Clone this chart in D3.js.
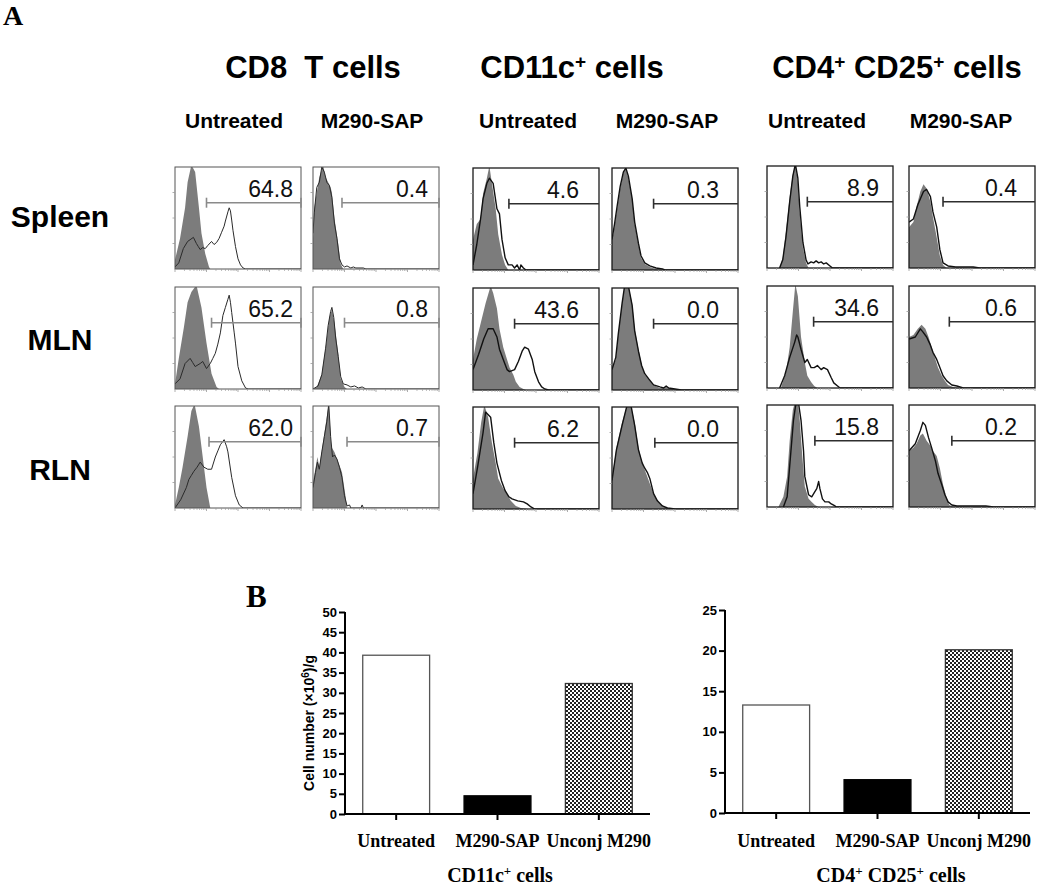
<!DOCTYPE html>
<html><head><meta charset="utf-8">
<script src="https://cdn.jsdelivr.net/npm/d3@7"></script>
<style>body{margin:0;background:#fff}</style>
</head><body>
<script>
// ---------------- DATA ----------------
const populations = [
  [["CD8  T cells", false]],
  [["CD11c", false], ["+", true], [" cells", false]],
  [["CD4", false], ["+", true], [" CD25", false], ["+", true], [" cells", false]]
];
const treatments = ["Untreated", "M290-SAP", "Untreated", "M290-SAP", "Untreated", "M290-SAP"];
const tissues = ["Spleen", "MLN", "RLN"];
const gatePercent = [
  [64.8, 0.4, 4.6, 0.3, 8.9, 0.4],
  [65.2, 0.8, 43.6, 0.0, 34.6, 0.6],
  [62.0, 0.7, 6.2, 0.0, 15.8, 0.2]
];
const gateStart = [
  [0.25, 0.23, 0.285, 0.33, 0.32, 0.27],
  [0.29, 0.25, 0.33, 0.33, 0.37, 0.32],
  [0.27, 0.27, 0.33, 0.34, 0.38, 0.34]
];
// histogram outlines: [fluorescence fraction, relative count], per tissue [Spleen, MLN, RLN]
const cd8UntrControl = [
  [[0,0.09],[0.04,0.3],[0.08,0.6],[0.1,0.85],[0.13,1.02],[0.16,0.95],[0.19,0.6],[0.21,0.35],[0.24,0.15],[0.27,0.02],[0.28,0]],
  [[0,0.05],[0.03,0.3],[0.07,0.6],[0.1,0.85],[0.13,0.95],[0.17,1.02],[0.21,0.8],[0.25,0.45],[0.29,0.15],[0.33,0.02],[0.35,0]],
  [[0,0.03],[0.03,0.2],[0.06,0.4],[0.1,0.7],[0.13,0.95],[0.155,1.02],[0.19,0.8],[0.22,0.5],[0.25,0.2],[0.28,0]]
];
const cd8UntrStained = [
  [[0,0.02],[0.03,0.06],[0.066,0.2],[0.1,0.27],[0.146,0.31],[0.17,0.25],[0.185,0.22],[0.2,0.19],[0.22,0.21],[0.24,0.2],[0.26,0.23],[0.29,0.27],[0.31,0.24],[0.33,0.26],[0.35,0.3],[0.37,0.36],[0.39,0.42],[0.4,0.47],[0.42,0.56],[0.43,0.6],[0.44,0.57],[0.45,0.48],[0.46,0.38],[0.48,0.22],[0.5,0.1],[0.52,0.04],[0.54,0.01],[0.56,0]],
  [[0,0.05],[0.04,0.1],[0.08,0.25],[0.12,0.3],[0.14,0.26],[0.16,0.22],[0.2,0.25],[0.22,0.27],[0.25,0.2],[0.28,0.25],[0.3,0.3],[0.32,0.35],[0.34,0.44],[0.36,0.55],[0.38,0.72],[0.4,0.8],[0.42,0.88],[0.43,0.92],[0.44,0.85],[0.45,0.75],[0.47,0.55],[0.48,0.45],[0.5,0.22],[0.53,0.08],[0.56,0.01],[0.58,0]],
  [[0,0],[0.045,0.08],[0.09,0.2],[0.11,0.28],[0.13,0.32],[0.15,0.36],[0.175,0.4],[0.19,0.43],[0.2,0.45],[0.23,0.4],[0.26,0.38],[0.29,0.38],[0.32,0.5],[0.34,0.56],[0.36,0.62],[0.39,0.67],[0.41,0.6],[0.42,0.55],[0.45,0.3],[0.48,0.12],[0.51,0.03],[0.54,0]]
];
const cd8SapControl = [
  [[0,0.3],[0.01,0.6],[0.03,0.75],[0.05,0.9],[0.08,1.02],[0.1,0.9],[0.12,0.85],[0.14,0.8],[0.15,0.75],[0.17,0.5],[0.2,0.25],[0.22,0.05],[0.24,0]],
  [[0,0],[0.03,0.02],[0.07,0.15],[0.105,0.45],[0.13,0.7],[0.15,0.78],[0.17,0.65],[0.2,0.35],[0.22,0.1],[0.25,0.02],[0.27,0]],
  [[0,0.25],[0.035,0.5],[0.05,0.4],[0.08,0.65],[0.11,0.9],[0.125,1.02],[0.145,0.6],[0.17,0.55],[0.2,0.45],[0.23,0.35],[0.26,0.1],[0.27,0]]
];
const cd8SapStained = [
  [[0,0.35],[0.01,0.55],[0.03,0.8],[0.05,0.85],[0.07,1.0],[0.09,0.95],[0.11,0.85],[0.13,0.82],[0.15,0.7],[0.17,0.45],[0.19,0.3],[0.21,0.1],[0.23,0.04],[0.25,0.02],[0.27,0.03],[0.3,0.01],[0.32,0.02],[0.34,0.01],[0.4,0.01],[0.42,0]],
  [[0,0],[0.04,0.03],[0.07,0.14],[0.1,0.4],[0.12,0.62],[0.14,0.76],[0.15,0.8],[0.165,0.7],[0.18,0.5],[0.2,0.32],[0.22,0.12],[0.24,0.05],[0.27,0.04],[0.3,0.02],[0.33,0.03],[0.36,0.01],[0.39,0.02],[0.42,0]],
  [[0,0.2],[0.02,0.35],[0.035,0.45],[0.05,0.38],[0.07,0.55],[0.09,0.7],[0.11,0.85],[0.125,1.02],[0.14,0.7],[0.155,0.5],[0.17,0.52],[0.19,0.48],[0.21,0.4],[0.23,0.3],[0.25,0.12],[0.27,0.02],[0.29,0.03],[0.3,0],[0.38,0],[0.39,0.03],[0.4,0]]
];
const cd11UntrControl = [
  [[0,0.3],[0.03,0.45],[0.06,0.5],[0.08,0.75],[0.11,0.9],[0.13,1.02],[0.15,0.85],[0.18,0.6],[0.2,0.35],[0.23,0.15],[0.255,0.05],[0.28,0]],
  [[0,0.3],[0.03,0.5],[0.06,0.65],[0.1,0.85],[0.14,1.02],[0.16,0.95],[0.19,0.8],[0.21,0.6],[0.24,0.42],[0.27,0.3],[0.29,0.22],[0.32,0.15],[0.34,0.08],[0.37,0.03],[0.4,0.01],[0.42,0]],
  [[0,0.3],[0.035,0.55],[0.065,0.85],[0.09,1.02],[0.12,0.9],[0.15,0.65],[0.18,0.45],[0.2,0.3],[0.24,0.2],[0.27,0.15],[0.3,0.08],[0.34,0.03],[0.38,0.01],[0.44,0]]
];
const cd11UntrStained = [
  [[0,0.05],[0.03,0.25],[0.06,0.5],[0.08,0.7],[0.11,0.85],[0.13,0.9],[0.16,0.85],[0.19,0.6],[0.21,0.55],[0.23,0.3],[0.255,0.12],[0.28,0.05],[0.31,0.05],[0.33,0.02],[0.35,0.05],[0.37,0],[0.38,0.05],[0.4,0.02],[0.42,0]],
  [[0,0.2],[0.045,0.35],[0.085,0.5],[0.12,0.6],[0.16,0.6],[0.19,0.52],[0.21,0.4],[0.24,0.3],[0.27,0.2],[0.29,0.18],[0.33,0.2],[0.36,0.28],[0.39,0.38],[0.41,0.42],[0.44,0.4],[0.47,0.3],[0.49,0.18],[0.52,0.08],[0.545,0.03],[0.57,0.01],[0.6,0]],
  [[0,0.15],[0.035,0.4],[0.08,0.75],[0.1,0.95],[0.14,0.9],[0.165,0.65],[0.19,0.45],[0.225,0.28],[0.255,0.18],[0.285,0.12],[0.31,0.1],[0.355,0.08],[0.4,0.07],[0.43,0.05],[0.46,0.02],[0.49,0]]
];
const cd11SapControl = [
  [[0,0.3],[0.01,0.35],[0.04,0.6],[0.065,0.8],[0.09,0.95],[0.11,1.0],[0.13,0.9],[0.16,0.7],[0.18,0.45],[0.21,0.25],[0.23,0.12],[0.26,0.06],[0.3,0.03],[0.35,0.01],[0.4,0]],
  [[0,0.22],[0.03,0.3],[0.05,0.55],[0.08,0.85],[0.1,1.02],[0.13,1.02],[0.16,0.85],[0.18,0.6],[0.21,0.4],[0.235,0.25],[0.26,0.15],[0.29,0.1],[0.33,0.05],[0.38,0.02],[0.43,0.03],[0.48,0.01],[0.53,0]],
  [[0,0.3],[0.035,0.6],[0.08,0.85],[0.12,1.02],[0.15,1.02],[0.18,0.85],[0.21,0.6],[0.24,0.45],[0.27,0.35],[0.3,0.25],[0.33,0.15],[0.36,0.08],[0.4,0.03],[0.44,0.01],[0.5,0]]
];
const cd11SapStained = [
  [[0,0.3],[0.02,0.45],[0.04,0.62],[0.065,0.82],[0.09,0.96],[0.11,1.0],[0.13,0.92],[0.16,0.7],[0.18,0.47],[0.21,0.26],[0.23,0.14],[0.26,0.07],[0.3,0.04],[0.35,0.02],[0.4,0.01],[0.42,0]],
  [[0,0.2],[0.03,0.32],[0.05,0.55],[0.08,0.85],[0.1,1.02],[0.13,1.02],[0.16,0.83],[0.18,0.58],[0.21,0.38],[0.235,0.24],[0.26,0.16],[0.29,0.11],[0.33,0.05],[0.38,0.03],[0.41,0.02],[0.43,0.04],[0.45,0.02],[0.5,0.01],[0.55,0]],
  [[0,0.28],[0.035,0.58],[0.08,0.82],[0.12,1.02],[0.15,1.02],[0.18,0.82],[0.21,0.58],[0.24,0.45],[0.26,0.4],[0.28,0.36],[0.3,0.3],[0.33,0.15],[0.36,0.08],[0.4,0.03],[0.44,0.01],[0.5,0]]
];
const cd4UntrControl = [
  [[0.1,0],[0.125,0.1],[0.15,0.35],[0.18,0.7],[0.205,0.92],[0.225,1.02],[0.245,0.85],[0.26,0.55],[0.285,0.2],[0.31,0.05],[0.33,0]],
  [[0.11,0],[0.15,0.15],[0.18,0.4],[0.205,0.75],[0.225,1.02],[0.245,0.9],[0.27,0.5],[0.3,0.25],[0.32,0.12],[0.35,0.06],[0.375,0.02],[0.4,0]],
  [[0.09,0],[0.13,0.1],[0.16,0.3],[0.18,0.65],[0.205,0.95],[0.22,1.02],[0.245,1.02],[0.26,0.85],[0.28,0.5],[0.3,0.2],[0.33,0.08],[0.355,0.05],[0.38,0.02],[0.41,0]]
];
const cd4UntrStained = [
  [[0.1,0],[0.125,0.08],[0.15,0.3],[0.18,0.65],[0.205,0.9],[0.225,1.02],[0.245,0.88],[0.26,0.6],[0.285,0.25],[0.31,0.08],[0.325,0.04],[0.35,0.06],[0.37,0.05],[0.39,0.07],[0.41,0.05],[0.43,0.06],[0.45,0.04],[0.47,0.05],[0.5,0.02],[0.52,0]],
  [[0.1,0],[0.14,0.12],[0.18,0.3],[0.22,0.45],[0.235,0.52],[0.245,0.5],[0.27,0.38],[0.3,0.25],[0.32,0.28],[0.35,0.2],[0.375,0.2],[0.4,0.22],[0.43,0.18],[0.45,0.2],[0.48,0.18],[0.51,0.1],[0.53,0.05],[0.56,0.02],[0.58,0]],
  [[0.13,0],[0.16,0.1],[0.18,0.4],[0.21,0.85],[0.23,1.02],[0.25,1.02],[0.27,0.85],[0.29,0.55],[0.3,0.3],[0.33,0.12],[0.355,0.1],[0.38,0.15],[0.395,0.18],[0.41,0.25],[0.42,0.18],[0.44,0.08],[0.46,0.05],[0.49,0.05],[0.51,0.03],[0.54,0.01],[0.55,0]]
];
const cd4SapControl = [
  [[0,0.4],[0.035,0.45],[0.06,0.6],[0.09,0.75],[0.115,0.82],[0.14,0.78],[0.17,0.65],[0.19,0.5],[0.22,0.3],[0.245,0.12],[0.27,0.03],[0.3,0]],
  [[0,0.5],[0.035,0.52],[0.07,0.58],[0.1,0.62],[0.13,0.58],[0.155,0.5],[0.18,0.4],[0.205,0.3],[0.23,0.2],[0.26,0.12],[0.285,0.07],[0.31,0.03],[0.35,0.01],[0.4,0]],
  [[0,0.55],[0.035,0.58],[0.06,0.62],[0.09,0.7],[0.11,0.72],[0.14,0.65],[0.17,0.6],[0.19,0.55],[0.22,0.5],[0.245,0.38],[0.27,0.22],[0.3,0.08],[0.32,0.02],[0.35,0.005],[0.67,0]]
];
const cd4SapStained = [
  [[0,0.45],[0.035,0.48],[0.07,0.62],[0.115,0.75],[0.14,0.77],[0.17,0.7],[0.19,0.55],[0.22,0.4],[0.245,0.18],[0.27,0.05],[0.31,0.02],[0.37,0.01],[0.51,0.01],[0.56,0]],
  [[0,0.48],[0.05,0.5],[0.09,0.58],[0.11,0.55],[0.14,0.5],[0.17,0.42],[0.19,0.35],[0.22,0.28],[0.245,0.2],[0.27,0.12],[0.3,0.07],[0.34,0.03],[0.38,0.02],[0.43,0]],
  [[0,0.55],[0.05,0.62],[0.09,0.75],[0.11,0.83],[0.13,0.8],[0.155,0.68],[0.18,0.58],[0.21,0.45],[0.23,0.33],[0.26,0.22],[0.285,0.12],[0.31,0.05],[0.34,0.02],[0.38,0.01],[0.61,0.01],[0.67,0]]
];
const histControl = [cd8UntrControl, cd8SapControl, cd11UntrControl, cd11SapControl, cd4UntrControl, cd4SapControl];
const histStained = [cd8UntrStained, cd8SapStained, cd11UntrStained, cd11SapStained, cd4UntrStained, cd4SapStained];

const barGroups = ["Untreated", "M290-SAP", "Unconj M290"];
const cd11cCounts = [39.3, 4.5, 32.3];
const tregCounts = [13.3, 4.1, 20.1];
const cd11cTicks = [0, 5, 10, 15, 20, 25, 30, 35, 40, 45, 50];
const tregTicks = [0, 5, 10, 15, 20, 25];

// ---------------- DRAW ----------------
const W = 1050, H = 886;
const svg = d3.select("body").append("svg").attr("width", W).attr("height", H)
  .style("font-family", "'Liberation Sans', Arial, sans-serif");

const defs = svg.append("defs");
const pat = defs.append("pattern").attr("id", "checker").attr("patternUnits", "userSpaceOnUse")
  .attr("width", 4).attr("height", 4);
pat.append("rect").attr("width", 4).attr("height", 4).attr("fill", "#fff");
pat.append("rect").attr("width", 2).attr("height", 2).attr("fill", "#222");
pat.append("rect").attr("x", 2).attr("y", 2).attr("width", 2).attr("height", 2).attr("fill", "#222");

function richText(sel, segs, supSize) {
  segs.forEach(([t, sup]) => {
    const ts = sel.append("tspan").text(t);
    if (sup) ts.attr("font-size", supSize).attr("baseline-shift", "super");
  });
}

// Panel labels
svg.append("text").attr("x", 3).attr("y", 25).text("A")
  .attr("font-family", "'Liberation Serif', 'Times New Roman', serif").attr("font-weight", "bold").attr("font-size", 28);
svg.append("text").attr("x", 246).attr("y", 607).text("B")
  .attr("font-family", "'Liberation Serif', 'Times New Roman', serif").attr("font-weight", "bold").attr("font-size", 31);

// Population headers
const headerX = [313, 572, 897];
populations.forEach((segs, i) => {
  const t = svg.append("text").attr("x", headerX[i]).attr("y", 78).attr("text-anchor", "middle")
    .attr("font-weight", "bold").attr("font-size", 31).style("white-space", "pre");
  richText(t, segs, 19);
});
const subX = [234, 372, 528, 667, 817, 961];
treatments.forEach((t, i) => {
  svg.append("text").attr("x", subX[i]).attr("y", 128).attr("text-anchor", "middle")
    .attr("font-weight", "bold").attr("font-size", 21).text(t);
});
const rowLabelY = [227, 350, 480];
tissues.forEach((t, i) => {
  svg.append("text").attr("x", 60).attr("y", rowLabelY[i]).attr("text-anchor", "middle")
    .attr("font-weight", "bold").attr("font-size", 30).text(t);
});

// Histogram panels
const colX = [175, 313, 473, 612, 767, 909];
const colDy = [0, 0, 1, 1, -1, -1];
const rowY = [167, 287, 406];
const PW = 126, PH = 102;
const labelPad = [8, 11, 20, 19, 14, 18];
const fmt = d3.format(".1f");

tissues.forEach((tissue, r) => {
  colX.forEach((cx, c) => {
    const top = rowY[r] + colDy[c];
    const x = d3.scaleLinear().domain([0, 1]).range([cx, cx + PW]);
    const y = d3.scaleLinear().domain([0, 1]).range([top + PH, top]);
    const isCD8 = c < 2;
    const g = svg.append("g");
    const clipId = `clip-${r}-${c}`;
    defs.append("clipPath").attr("id", clipId).append("rect")
      .attr("x", cx).attr("y", top).attr("width", PW).attr("height", PH);
    const plot = g.append("g").attr("clip-path", `url(#${clipId})`);

    const ctrl = histControl[c][r];
    const area = d3.area().x(d => x(d[0])).y0(y(0)).y1(d => y(d[1]));
    plot.append("path").datum([[ctrl[0][0], 0], ...ctrl, [ctrl[ctrl.length - 1][0], 0]])
      .attr("d", area).attr("fill", "#7c7c7c");

    const st = histStained[c][r];
    const line = d3.line().x(d => x(d[0])).y(d => y(d[1]));
    plot.append("path").datum([...st, [1, 0]]).attr("d", line).attr("fill", "none")
      .attr("stroke", isCD8 ? "#2a2a2a" : "#111").attr("stroke-width", isCD8 ? 1 : 1.4)
      .attr("stroke-linejoin", "round");

    // frame
    g.append("rect").attr("x", cx).attr("y", top).attr("width", PW).attr("height", PH)
      .attr("fill", "none").attr("stroke", isCD8 ? "#555" : "#1a1a1a").attr("stroke-width", isCD8 ? 1 : 1.3);

    // log-decade ticks on bottom and left edges
    const tickFr = [];
    for (let d = 0; d < 4; d++) {
      tickFr.push([d / 4, 3]);
      for (let m = 2; m <= 9; m++) tickFr.push([(d + Math.log10(m)) / 4, 1.8]);
    }
    tickFr.push([1, 3]);
    g.selectAll(null).data(tickFr).join("line")
      .attr("x1", d => x(d[0])).attr("x2", d => x(d[0]))
      .attr("y1", top + PH).attr("y2", d => top + PH + d[1])
      .attr("stroke", "#999").attr("stroke-width", 0.8);
    g.selectAll(null).data([0.25, 0.5, 0.75]).join("line")
      .attr("x1", cx).attr("x2", cx - 2.5).attr("y1", d => y(d)).attr("y2", d => y(d))
      .attr("stroke", "#999").attr("stroke-width", 0.8);

    // gate marker
    const gy = top + 0.35 * PH;
    const gx = x(gateStart[r][c]);
    const gc = isCD8 ? "#8a8a8a" : "#2e2e2e";
    g.append("line").attr("x1", gx).attr("x2", cx + PW).attr("y1", gy).attr("y2", gy)
      .attr("stroke", gc).attr("stroke-width", 1.6);
    g.append("line").attr("x1", gx).attr("x2", gx).attr("y1", gy - 5).attr("y2", gy + 5)
      .attr("stroke", gc).attr("stroke-width", 1.6);
    if (isCD8) g.append("line").attr("x1", cx + PW).attr("x2", cx + PW).attr("y1", gy - 5).attr("y2", gy + 5)
      .attr("stroke", gc).attr("stroke-width", 1.6);
    g.append("text").attr("x", cx + PW - labelPad[c]).attr("y", gy - 6).attr("text-anchor", "end")
      .attr("font-size", 23).attr("fill", "#111").text(fmt(gatePercent[r][c]));
  });
});

// Bar charts
function barChart(opts) {
  const { values, ticks, x0, x1, yBase, yTopPx, max, title, titleX, yLabel } = opts;
  const xs = d3.scaleBand().domain(barGroups).range([x0, x1]).paddingInner(0.34).paddingOuter(0.175);
  const ys = d3.scaleLinear().domain([0, max]).range([yBase, yTopPx]);
  const g = svg.append("g");
  const fills = ["#fff", "#000", "url(#checker)"];
  const strokes = ["#555", "#000", "#333"];
  g.selectAll(null).data(values).join("rect")
    .attr("x", (d, i) => xs(barGroups[i])).attr("width", xs.bandwidth())
    .attr("y", d => ys(d)).attr("height", d => yBase - ys(d))
    .attr("fill", (d, i) => fills[i]).attr("stroke", (d, i) => strokes[i]).attr("stroke-width", 1.3);

  const yAxis = d3.axisLeft(ys).tickValues(ticks).tickSize(6).tickPadding(2).tickFormat(d3.format("d"));
  const ya = g.append("g").attr("transform", `translate(${x0},0)`).call(yAxis);
  ya.select(".domain").attr("stroke-width", 2).attr("d", `M0,${ys(max)}V${yBase}`);
  ya.selectAll(".tick line").attr("stroke-width", 2);
  ya.selectAll(".tick text").attr("font-size", 13).attr("font-weight", "bold")
    .attr("font-family", "'Liberation Sans', Arial, sans-serif").attr("fill", "#000");

  g.append("line").attr("x1", x0 - 1).attr("x2", x1).attr("y1", yBase).attr("y2", yBase)
    .attr("stroke", "#000").attr("stroke-width", 2);
  g.selectAll(null).data(barGroups).join("line")
    .attr("x1", d => xs(d) + xs.bandwidth() / 2).attr("x2", d => xs(d) + xs.bandwidth() / 2)
    .attr("y1", yBase).attr("y2", yBase + 6).attr("stroke", "#000").attr("stroke-width", 2);
  g.selectAll(null).data(barGroups).join("text")
    .attr("x", d => xs(d) + xs.bandwidth() / 2).attr("y", 847).attr("text-anchor", "middle")
    .attr("font-family", "'Liberation Serif', 'Times New Roman', serif").attr("font-weight", "bold")
    .attr("font-size", 18).text(d => d);

  const tt = g.append("text").attr("x", titleX).attr("y", 882).attr("text-anchor", "middle")
    .attr("font-family", "'Liberation Serif', 'Times New Roman', serif").attr("font-weight", "bold")
    .attr("font-size", 20);
  richText(tt, title, 13);

  if (yLabel) {
    const yl = g.append("text").attr("transform", `translate(${x0 - 31},${(yBase + ys(max)) / 2 + 10}) rotate(-90)`)
      .attr("text-anchor", "middle").attr("font-weight", "bold").attr("font-size", 14);
    richText(yl, yLabel, 10);
  }
}

barChart({
  values: cd11cCounts, ticks: cd11cTicks, x0: 345, x1: 650, yBase: 814, yTopPx: 612, max: 50,
  title: [["CD11c", false], ["+", true], [" cells", false]], titleX: 500,
  yLabel: [["Cell number (×10", false], ["6", true], [")/g", false]]
});
barChart({
  values: tregCounts, ticks: tregTicks, x0: 725, x1: 1030, yBase: 813, yTopPx: 610, max: 25,
  title: [["CD4", false], ["+", true], [" CD25", false], ["+", true], [" cells", false]], titleX: 891,
  yLabel: null
});
</script>
</body></html>
